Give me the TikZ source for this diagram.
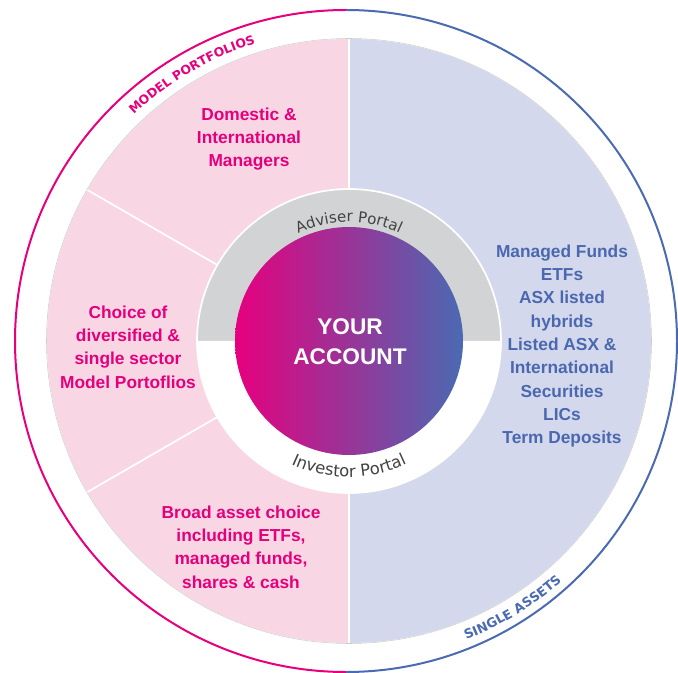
\documentclass[tikz,border=0pt]{standalone}
\usepackage{fontspec}
\setmainfont{Liberation Sans}
\newfontfamily\ringfont{DejaVu Sans}
\usetikzlibrary{decorations.text}

\definecolor{mpMagenta}{RGB}{230,0,126}
\definecolor{mpBlue}{RGB}{74,106,178}
\definecolor{mpPink}{RGB}{249,214,228}
\definecolor{mpLilac}{RGB}{212,216,236}
\definecolor{mpGrey}{RGB}{209,211,212}
\definecolor{mpText}{RGB}{228,0,124}
\definecolor{saText}{RGB}{74,104,176}
\definecolor{portalText}{RGB}{66,66,68}

\tikzset{every picture/.style={line width=0.75pt},
  boxtext/.style={align=center, font=\bfseries\fontsize{13}{17.5}\selectfont},
  ringline/.style={line width=1.5pt},
  divider/.style={white, line width=1.3pt},
  curvetext/.style={decorate, decoration={text along path, text={#1}, text align=center}}
}

\begin{document}
\begin{tikzpicture}[x=0.75pt,y=0.75pt,yscale=-1,xscale=1]
	\useasboundingbox (0,0) rectangle (678,673);

	\begin{scope}[shift={(349,341)},yscale=-1]
	%Shape: Outer Ring
	\draw [mpMagenta, ringline] (-3,331) arc[start angle=90, end angle=270, radius=331] ;
	\draw [mpBlue, ringline] (-3,-331) arc[start angle=-90, end angle=90, radius=331] ;
	%Shape: Sectors
	\fill [mpPink] (0,0) -- (90:302) arc[start angle=90, end angle=270, radius=302] -- cycle ;
	\fill [mpLilac] (0,0) -- (-90:302) arc[start angle=-90, end angle=90, radius=302] -- cycle ;
	\draw [gray!40, line width=0.4pt] (0,0) circle[radius=302.5] ;
	%Straight Lines
	\draw [divider] (90:150) -- (90:302) ;
	\draw [divider] (270:150) -- (270:302) ;
	\draw [divider] (150:150) -- (150:302) ;
	\draw [divider] (210:150) -- (210:302) ;
	%Shape: Portal Ring
	\fill [mpGrey] (0:152) arc[start angle=0, end angle=180, radius=152] -- cycle ;
	\fill [white] (180:152) arc[start angle=180, end angle=360, radius=152] -- cycle ;
	\draw [white, line width=1.3pt] (0,0) circle[radius=152] ;
	%Shape: Account Circle
	\shade [left color=mpMagenta, right color=mpBlue] (0,0) circle[radius=114] ;

	% Curved Texts
	\path [curvetext={|\ringfont\bfseries\fontsize{9.3}{11}\selectfont\color{mpMagenta}|MODEL PORTFOLIOS}] (145.5:312) arc[start angle=145.5, end angle=95.5, radius=312] ;
	\path [curvetext={|\ringfont\bfseries\fontsize{9.7}{11}\selectfont\color{mpBlue}|SINGLE ASSETS}] (-83.5:321) arc[start angle=-83.5, end angle=-33.5, radius=321] ;
	\path [curvetext={|\ringfont\fontsize{11.3}{13}\selectfont\color{portalText}|Adviser Portal}] (150:119) arc[start angle=150, end angle=30, radius=119] ;
	\path [curvetext={|\ringfont\fontsize{12.3}{14}\selectfont\color{portalText}|Investor Portal}] (210:136) arc[start angle=210, end angle=330, radius=136] ;
	\end{scope}

	% Text Node
	\draw (350,342) node [boxtext, white, font=\bfseries\fontsize{17}{22.5}\selectfont] (account) {YOUR\\ACCOUNT};
	% Text Node
	\draw (249,139) node [boxtext, mpText] (domestic) {Domestic \&\\International\\Managers};
	% Text Node
	\draw (128,347) node [boxtext, mpText] (choice) {Choice of\\diversified \&\\single sector\\Model Portoflios};
	% Text Node
	\draw (241,547) node [boxtext, mpText] (broad) {Broad asset choice\\including ETFs,\\managed funds,\\shares \& cash};
	% Text Node
	\draw (562,346) node [boxtext, saText] (single) {Managed Funds\\ETFs\\ASX listed\\hybrids\\Listed ASX \&\\International\\Securities\\LICs\\Term Deposits};

\end{tikzpicture}
\end{document}
